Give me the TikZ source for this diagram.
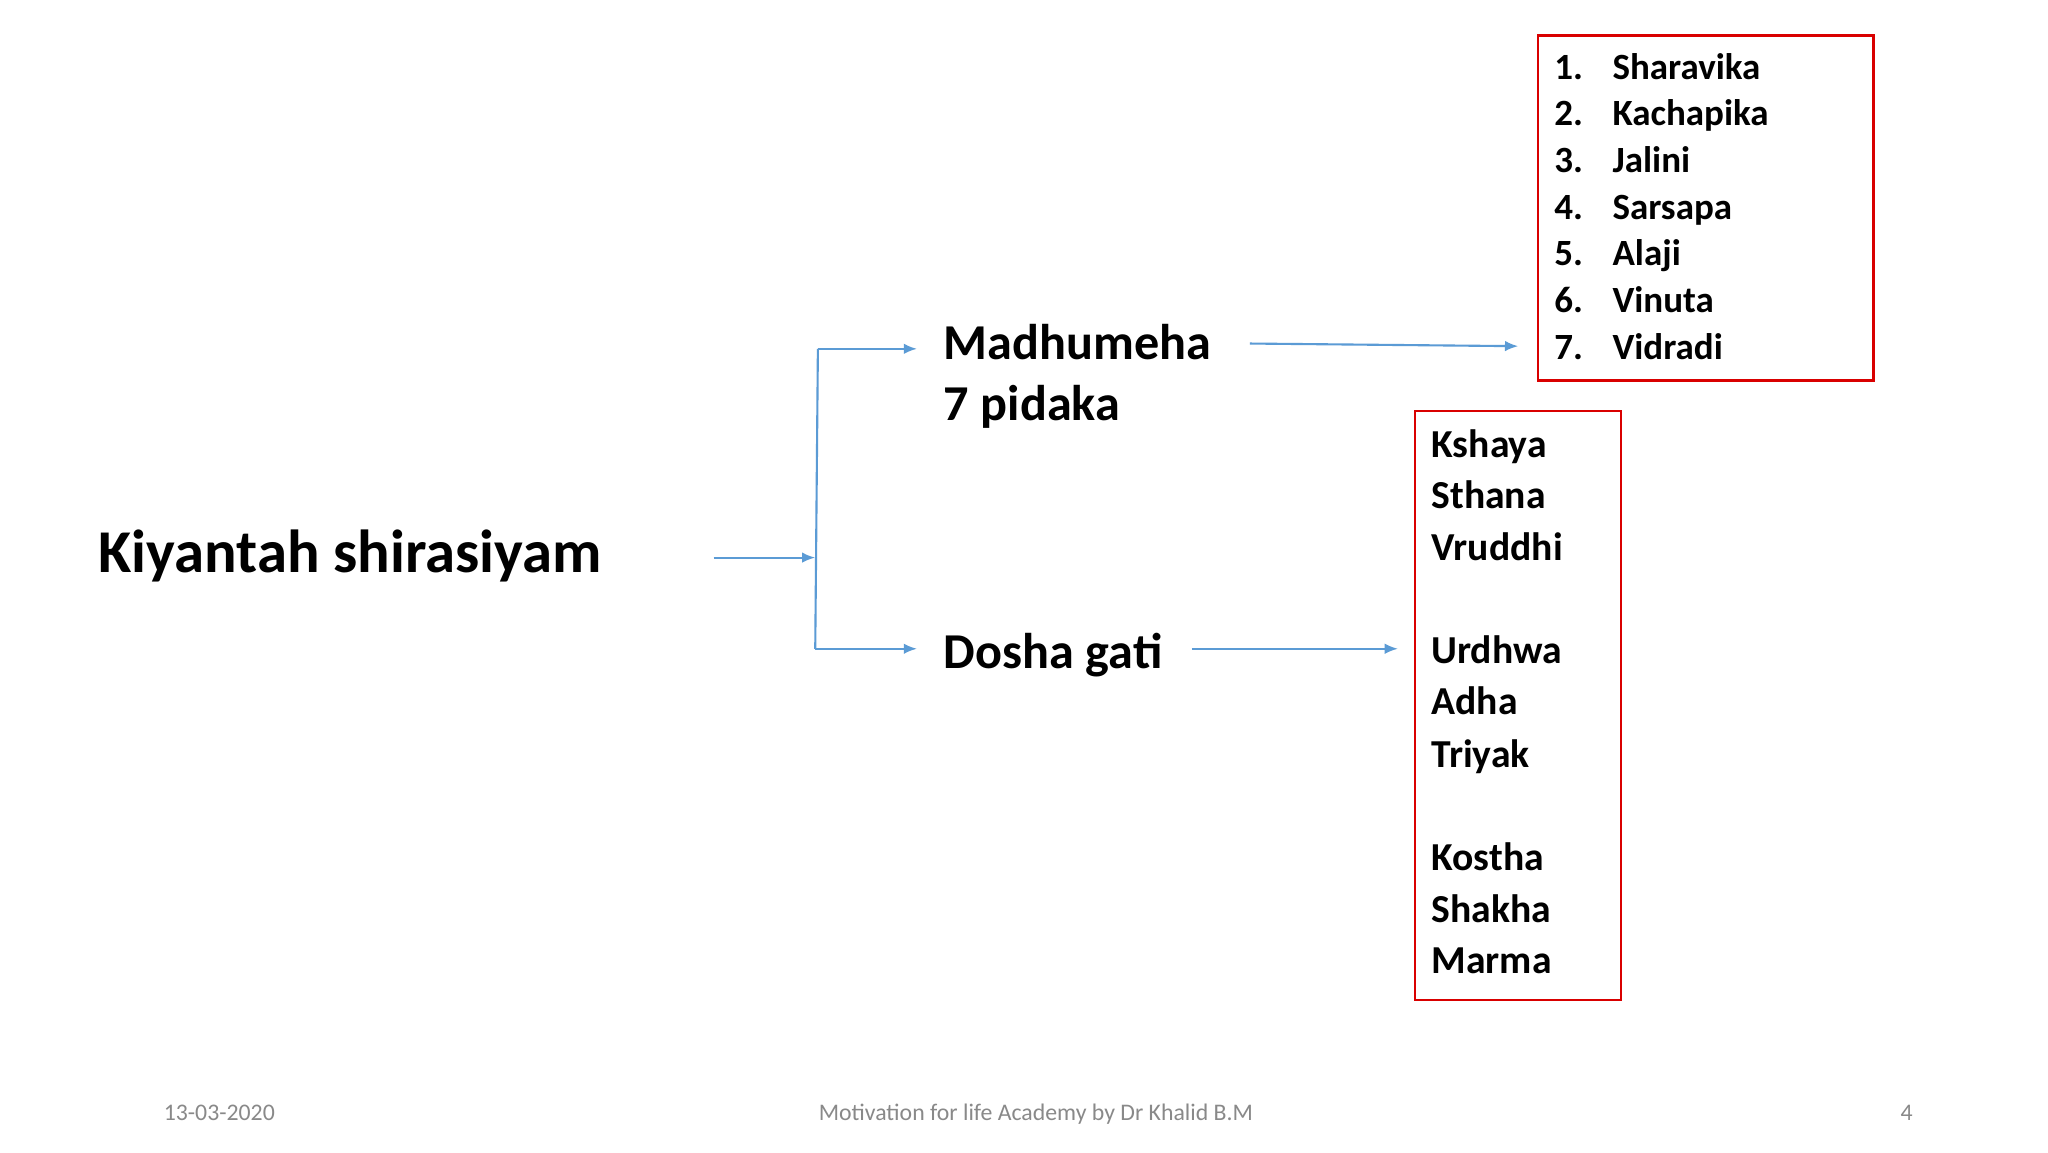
\documentclass[tikz,border=0pt]{standalone}
\usepackage{fontspec}
\setmainfont{Carlito}
\usetikzlibrary{arrows.meta}
\definecolor{arr}{RGB}{91,155,213}
\definecolor{foot}{RGB}{137,137,137}
\tikzset{
 conn/.style={draw=arr,line width=0.8pt,-{Latex[length=5pt,width=4pt]}},
 plain/.style={draw=arr,line width=0.8pt},
 redbox/.style={draw=red!85!black,line width=0.9pt},
 lbl/.style={inner sep=0pt,anchor=base west,font=\bfseries},
 foottxt/.style={inner sep=0pt,anchor=base,font=\fontsize{9}{11}\selectfont,text=foot}
}
\begin{document}
\begin{tikzpicture}[x=0.5pt,y=-0.5pt]
\useasboundingbox[fill=white] (0,0) rectangle (1550,872);
\node[lbl,font=\bfseries\fontsize{23}{28}\selectfont] (k) at (74,433) {Kiyantah shirasiyam};
\node[lbl,font=\bfseries\fontsize{19}{23}\selectfont] (m) at (714,272) {Madhumeha};
\node[lbl,font=\bfseries\fontsize{19}{23}\selectfont] (p) at (714,318) {7 pidaka};
\node[lbl,font=\bfseries\fontsize{19}{23}\selectfont] (d) at (714,506) {Dosha gati};
\coordinate (a1) at (540,422); \coordinate (a2) at (617,422);
\coordinate (t) at (619,264); \coordinate (b) at (617,491);
\coordinate (tm) at (694,264); \coordinate (bm) at (694,491);
\coordinate (m1) at (946,260); \coordinate (m2) at (1149,262);
\coordinate (d1) at (902,491); \coordinate (d2) at (1058,491);
\draw[conn] (a1) -- (a2);
\draw[plain] (t) -- (b);
\draw[conn] (t) -- (tm);
\draw[conn] (b) -- (bm);
\draw[conn] (m1) -- (m2);
\draw[conn] (d1) -- (d2);
\node[redbox,minimum width=0pt,inner sep=0pt] (box1) at (1291,157.5) [minimum width=127pt,minimum height=130.5pt] {};
\node[redbox,inner sep=0pt,minimum width=78pt,minimum height=223pt] (box2) at (1149,534) {};
\foreach \n/\t [count=\i from 0] in {1/Sharavika,2/Kachapika,3/Jalini,4/Sarsapa,5/Alaji,6/Vinuta,7/Vidradi}{
  \node[lbl,font=\bfseries\fontsize{14}{17}\selectfont] (n\n) at (1176,{60+35.3*\i}) {\n.};
  \node[lbl,font=\bfseries\fontsize{14}{17}\selectfont] (l\n) at (1220,{60+35.3*\i}) {\t};
}
\foreach \t/\y [count=\i] in {Kshaya/346,Sthana/385,Vruddhi/424,Urdhwa/502,Adha/541,Triyak/581,Kostha/659,Shakha/698,Marma/737}{
  \node[lbl,font=\bfseries\fontsize{15}{18}\selectfont] (r\i) at (1083,\y) {\t};
}
\node[foottxt] (f1) at (166,848) {13-03-2020};
\node[foottxt] (f2) at (784,848) {Motivation for life Academy by Dr Khalid B.M};
\node[foottxt] (f3) at (1443,848) {4};
\end{tikzpicture}
\end{document}
